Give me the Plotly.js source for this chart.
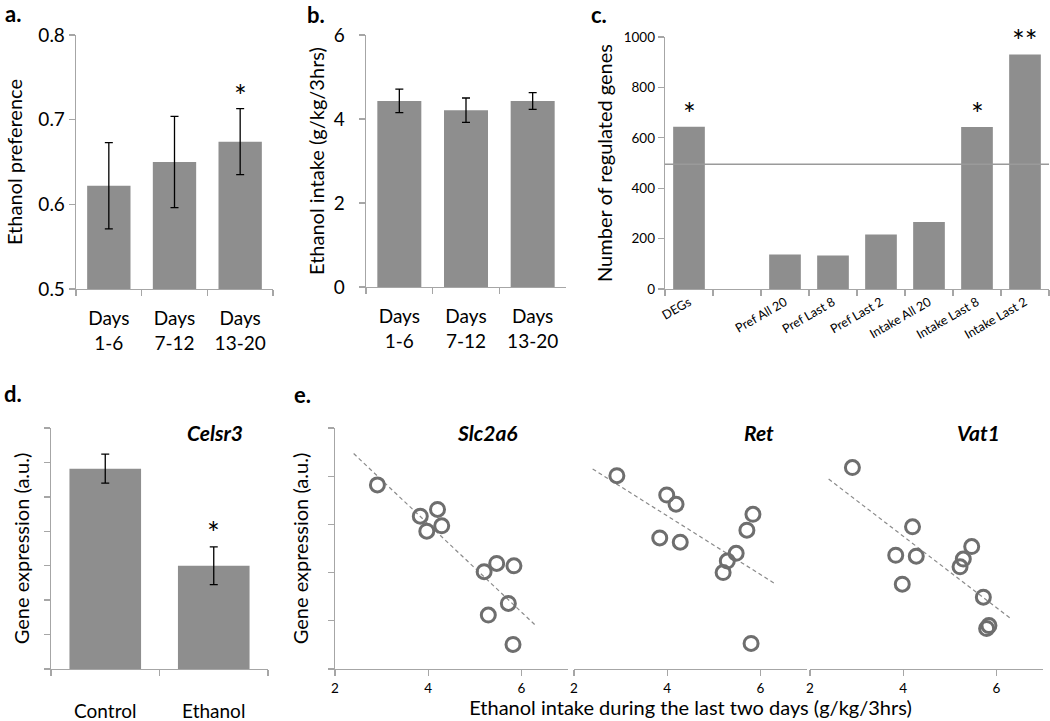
<!DOCTYPE html>
<html>
<head>
<meta charset="utf-8">
<script src="https://cdn.plot.ly/plotly-3.0.1.min.js"></script>
<style>
  body { margin: 0; background: #fff; }
  #fig { width: 1050px; height: 721px; }
</style>
</head>
<body>
<div id="fig"></div>
<script>
// --- data ---
const dayCats = ['Days<br>1-6', 'Days<br>7-12', 'Days<br>13-20'];
const prefMean = [0.622, 0.650, 0.674];
const prefErr = [0.051, 0.054, 0.039];
const prefStars = ['', '', '*'];

const intakeMean = [4.43, 4.21, 4.43];
const intakeErr = [0.28, 0.29, 0.20];

const geneSetCats = ['DEGs', ' ', 'Pref All 20', 'Pref Last 8', 'Pref Last 2', 'Intake All 20', 'Intake Last 8', 'Intake Last 2'];
const geneCounts = [644, null, 137, 133, 216, 266, 643, 931];
const geneStars = ['*', '', '', '', '', '', '*', '**'];
const geneThreshold = 495;

const groupCats = ['Control', 'Ethanol'];
const celsr3Mean = [5.82, 3.00];
const celsr3Err = [0.42, 0.55];
const celsr3Stars = ['', '*'];

const slcX = [2.91, 3.83, 4.20, 3.97, 4.29, 5.20, 5.47, 5.84, 5.72, 5.29, 5.82];
const slcY = [3.82, 3.17, 3.31, 2.86, 2.97, 2.02, 2.19, 2.14, 1.36, 1.12, 0.51];
const retX = [2.92, 3.99, 4.19, 3.84, 4.28, 5.84, 5.71, 5.48, 5.29, 5.20, 5.80];
const retY = [4.01, 3.61, 3.42, 2.72, 2.63, 3.21, 2.88, 2.40, 2.24, 2.00, 0.53];
const vatX = [2.91, 4.20, 3.84, 4.28, 3.98, 5.47, 5.29, 5.22, 5.72, 5.84, 5.79];
const vatY = [4.18, 2.95, 2.36, 2.34, 1.76, 2.54, 2.28, 2.12, 1.49, 0.90, 0.84];

// dashed fit lines (end points)
const fitX = [2.40, 6.33];
const slcFit = [4.47, 0.88];
const retFit = [4.15, 1.76];
const vatFit = [3.94, 1.03];

// --- style ---
const FONT = 'Lato, "Open Sans", sans-serif';
const BAR = '#8e8e8e';
const AXIS = '#a6a6a6';
const DOT = '#6e6e6e';
const W = 1050, H = 721;

const px = (a, b) => [a / W, b / W];
const py = (top, bottom) => [1 - bottom / H, 1 - top / H];

function errBar(arr) {
  return { type: 'data', array: arr, visible: true, color: '#000', thickness: 1.3, width: 4 };
}

const traces = [
  { type: 'bar', x: dayCats, y: prefMean, error_y: errBar(prefErr), marker: { color: BAR }, xaxis: 'x', yaxis: 'y' },
  { type: 'bar', x: dayCats, y: intakeMean, error_y: errBar(intakeErr), marker: { color: BAR }, xaxis: 'x2', yaxis: 'y2' },
  { type: 'bar', x: geneSetCats, y: geneCounts, marker: { color: BAR }, xaxis: 'x3', yaxis: 'y3' },
  { type: 'bar', x: groupCats, y: celsr3Mean, error_y: errBar(celsr3Err), marker: { color: BAR }, xaxis: 'x4', yaxis: 'y4' },
];

const genes = [
  { x: slcX, y: slcY, fit: slcFit, ax: '5' },
  { x: retX, y: retY, fit: retFit, ax: '6' },
  { x: vatX, y: vatY, fit: vatFit, ax: '7' },
];
genes.forEach(g => {
  traces.push({
    type: 'scatter', mode: 'lines', x: fitX, y: g.fit,
    line: { color: '#8a8a8a', width: 1.2, dash: '4px,3px' },
    xaxis: 'x' + g.ax, yaxis: 'y' + g.ax
  });
  traces.push({
    type: 'scatter', mode: 'markers', x: g.x, y: g.y,
    marker: { symbol: 'circle-open', size: 14, color: DOT, line: { width: 3, color: DOT } },
    xaxis: 'x' + g.ax, yaxis: 'y' + g.ax
  });
});

function baseAxis(extra) {
  return Object.assign({
    showgrid: false, zeroline: false, showline: true, linecolor: AXIS, linewidth: 1.3,
    ticks: 'outside', ticklen: 6, tickcolor: AXIS, tickwidth: 1.3,
    tickfont: { family: FONT, size: 19, color: '#000' },
    fixedrange: true
  }, extra);
}

const titleFont = { family: FONT, size: 20, color: '#000' };
const smallTick = { family: FONT, size: 13.5, color: '#000' };

const layout = {
  width: W, height: H, autosize: false,
  margin: { l: 0, r: 0, t: 0, b: 0 },
  paper_bgcolor: '#fff', plot_bgcolor: '#fff',
  showlegend: false,
  bargap: 0.34,
  font: { family: FONT, color: '#000' },

  // a
  xaxis: baseAxis({ domain: px(76, 273), anchor: 'y', type: 'category', tickson: 'boundaries', ticklabelstandoff: 12 }),
  yaxis: baseAxis({ domain: py(35, 289), anchor: 'x', range: [0.5, 0.8], dtick: 0.1, tickformat: '.1f',
    title: { text: 'Ethanol preference', font: titleFont, standoff: 10 } }),
  // b
  xaxis2: baseAxis({ domain: px(366, 566), anchor: 'y2', type: 'category', tickson: 'boundaries', ticklabelstandoff: 12 }),
  yaxis2: baseAxis({ domain: py(35, 287), anchor: 'x2', range: [0, 6], dtick: 2, ticklabelstandoff: 10,
    title: { text: 'Ethanol intake (g/kg/3hrs)', font: titleFont, standoff: 4 } }),
  // c
  xaxis3: baseAxis({ domain: px(665, 1049), anchor: 'y3', type: 'category', tickson: 'boundaries',
    categoryorder: 'array', categoryarray: geneSetCats, range: [-0.5, 7.5],
    tickangle: -30, tickfont: { family: FONT, size: 12.5, color: '#000' } }),
  yaxis3: baseAxis({ domain: py(37, 289), anchor: 'x3', range: [0, 1000], dtick: 200,
    tickfont: smallTick,
    title: { text: 'Number of regulated genes', font: titleFont, standoff: 5 } }),
  // d
  xaxis4: baseAxis({ domain: px(51, 268), anchor: 'y4', type: 'category', tickson: 'boundaries', ticklabelstandoff: 25 }),
  yaxis4: baseAxis({ domain: py(428, 669), anchor: 'x4', range: [0, 7], dtick: 1, showticklabels: false,
    title: { text: 'Gene expression (a.u.)', font: titleFont, standoff: 8 } }),
  // e
  xaxis5: baseAxis({ domain: px(335, 568), anchor: 'y5', range: [2, 7], dtick: 2, tick0: 2, tickfont: smallTick }),
  yaxis5: baseAxis({ domain: py(428, 669), anchor: 'x5', range: [0, 5], dtick: 1, showticklabels: false,
    title: { text: 'Gene expression (a.u.)', font: titleFont, standoff: 13 } }),
  xaxis6: baseAxis({ domain: px(574, 807), anchor: 'y6', range: [2, 7], dtick: 2, tick0: 2, tickfont: smallTick,
    title: { text: 'Ethanol intake during the last two days (g/kg/3hrs)', font: titleFont, standoff: 4 } }),
  yaxis6: { domain: py(428, 669), anchor: 'x6', range: [0, 5], visible: false, fixedrange: true },
  xaxis7: baseAxis({ domain: px(810, 1043), anchor: 'y7', range: [2, 7], dtick: 2, tick0: 2, tickfont: smallTick }),
  yaxis7: { domain: py(428, 669), anchor: 'x7', range: [0, 5], visible: false, fixedrange: true },

  shapes: [
    { type: 'line', xref: 'x3 domain', yref: 'y3', x0: 0, x1: 1, y0: geneThreshold, y1: geneThreshold,
      line: { color: '#9a9a9a', width: 1.5 } }
  ],
  annotations: []
};

// significance stars
function addStars(cats, vals, errs, stars, xa, ya, shift) {
  stars.forEach((s, i) => {
    if (!s) return;
    layout.annotations.push({
      xref: xa, yref: ya, x: cats[i], y: vals[i] + (errs ? errs[i] : 0),
      text: s, showarrow: false, yanchor: 'bottom', yshift: shift,
      font: { family: FONT, size: 30, color: '#000' }
    });
  });
}
addStars(dayCats, prefMean, prefErr, prefStars, 'x', 'y', -6);
addStars(geneSetCats, geneCounts, null, geneStars, 'x3', 'y3', -6);
addStars(groupCats, celsr3Mean, celsr3Err, celsr3Stars, 'x4', 'y4', -5);

// panel letters
[['a.', 3, 14], ['b.', 305, 15], ['c.', 589, 15], ['d.', 2, 393], ['e.', 292, 394]].forEach(p => {
  layout.annotations.push({
    xref: 'paper', yref: 'paper', x: p[1] / W, y: 1 - p[2] / H, xanchor: 'left', yanchor: 'middle',
    text: '<b>' + p[0] + '</b>', showarrow: false, font: { family: FONT, size: 22, color: '#000' }
  });
});

// gene names
[['Celsr3', 215, 433], ['Slc2a6', 487, 433], ['Ret', 759, 433], ['Vat1', 978, 433]].forEach(g => {
  layout.annotations.push({
    xref: 'paper', yref: 'paper', x: g[1] / W, y: 1 - g[2] / H, xanchor: 'center', yanchor: 'middle',
    text: '<b><i>' + g[0] + '</i></b>', showarrow: false, font: { family: FONT, size: 21, color: '#000' }
  });
});

Plotly.newPlot('fig', traces, layout, { displayModeBar: false, staticPlot: true });
</script>
</body>
</html>
